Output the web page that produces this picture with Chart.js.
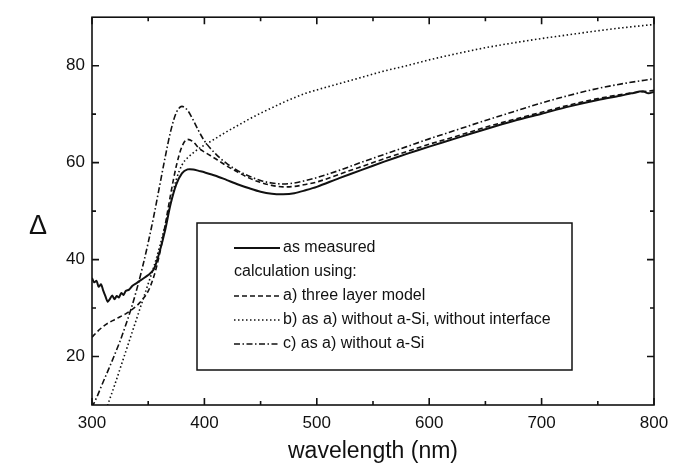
<!DOCTYPE html>
<html>
<head>
<meta charset="utf-8">
<script src="https://cdn.jsdelivr.net/npm/chart.js@4.4.0/dist/chart.umd.min.js"></script>
<style>
  html, body { margin: 0; padding: 0; background: #fff; }
</style>
</head>
<body>
<canvas id="deltaChart" width="683" height="474"></canvas>
<script>
// Measured ellipsometric angle (noisy below 350 nm)
const measuredWl = [300, 302, 304, 306, 308, 310, 312, 314, 316, 318, 320, 322, 324, 326, 328, 330, 333, 336, 340, 345,
  350, 355, 360, 365, 370, 375, 380, 385, 390, 395, 400, 410, 420, 430, 440, 450, 460, 470, 480, 490,
  500, 520, 540, 560, 580, 600, 625, 650, 675, 700, 725, 750, 770, 780, 790, 795, 800];
const measuredDelta = [36.2, 35.3, 35.6, 34.4, 34.9, 33.6, 32.4, 31.3, 31.9, 32.6, 31.8, 32.5, 32.2, 33.1, 32.7, 33.5, 33.8, 34.6, 35.2, 36.0,
  36.8, 38.0, 41.5, 46.0, 51.5, 55.5, 57.8, 58.6, 58.6, 58.3, 58.0, 57.3, 56.4, 55.5, 54.7, 54.0, 53.6, 53.5, 53.7, 54.3,
  55.0, 56.8, 58.5, 60.2, 61.8, 63.3, 65.1, 66.9, 68.6, 70.1, 71.6, 72.9, 73.8, 74.3, 74.7, 74.3, 74.6];

// Model calculations
const modelWl = [300, 305, 310, 315, 320, 325, 330, 335, 340, 345, 350, 355, 360, 365, 370, 375, 380, 385, 390, 395,
  400, 410, 420, 430, 440, 450, 460, 470, 480, 490, 500, 520, 540, 560, 580, 600, 625, 650, 675, 700, 725, 750, 775, 800];
const threeLayerDelta = [24.0, 25.2, 26.2, 27.0, 27.6, 28.2, 28.8, 29.6, 30.5, 31.8, 33.5, 36.5, 41.0, 47.0, 53.5, 59.3, 63.3, 64.8, 64.3, 63.0,
  62.2, 60.8, 59.3, 58.0, 56.8, 55.9, 55.3, 55.0, 55.1, 55.5, 56.0, 57.6, 59.2, 60.8, 62.3, 63.8, 65.5, 67.3, 68.9, 70.4, 71.9, 73.2, 74.2, 74.9];
const noSiNoInterfaceDelta = [0.5, 3.9, 7.3, 10.7, 14.0, 17.5, 21.0, 24.5, 28.0, 31.5, 35.0, 38.5, 42.5, 47.0, 52.0, 56.5, 59.5, 61.0, 62.0, 62.9,
  63.6, 65.0, 66.4, 67.7, 69.0, 70.2, 71.3, 72.4, 73.4, 74.3, 75.0, 76.3, 77.6, 78.9, 80.0, 81.2, 82.5, 83.7, 84.7, 85.6, 86.4, 87.2, 87.9, 88.5];
const noSiDelta = [9.5, 12.0, 14.8, 17.5, 20.3, 23.2, 26.5, 30.0, 34.0, 38.5, 43.5, 49.0, 55.0, 61.0, 66.5, 70.3, 71.6, 70.8, 68.8, 66.5,
  64.5, 61.8, 59.8, 58.3, 57.2, 56.3, 55.8, 55.6, 55.8, 56.3, 56.9, 58.4, 60.1, 61.7, 63.3, 64.9, 66.8, 68.7, 70.5, 72.3, 73.9, 75.3, 76.4, 77.3];

const seriesLabels = ['as measured', 'a) three layer model', 'b) as a) without a-Si, without interface', 'c) as a) without a-Si'];
const legendSubtitle = 'calculation using:';

// axis ticks
const xTicks = [300, 400, 500, 600, 700, 800];
const xMinorTicks = [350, 450, 550, 650, 750];
const yTicks = [20, 40, 60, 80];
const yMinorTicks = [30, 50, 70];

const FONT = '"Liberation Sans", Arial, Helvetica, sans-serif';
const INK = '#111';

const toPoints = (xs, ys) => xs.map((x, i) => ({ x: x, y: ys[i] }));

// frame, inward ticks, delta label and the boxed legend
const framePlugin = {
  id: 'frame',
  afterDraw(chart) {
    const ctx = chart.ctx;
    const area = chart.chartArea;
    const xs = chart.scales.x, ys = chart.scales.y;
    ctx.save();
    ctx.strokeStyle = INK;
    ctx.lineWidth = 1.6;
    ctx.strokeRect(area.left, area.top, area.right - area.left, area.bottom - area.top);

    const tick = (vals, len) => {
      vals.forEach(v => {
        const px = xs.getPixelForValue(v);
        ctx.beginPath();
        ctx.moveTo(px, area.bottom); ctx.lineTo(px, area.bottom - len);
        ctx.moveTo(px, area.top); ctx.lineTo(px, area.top + len);
        ctx.stroke();
      });
    };
    const ytick = (vals, len) => {
      vals.forEach(v => {
        const py = ys.getPixelForValue(v);
        ctx.beginPath();
        ctx.moveTo(area.left, py); ctx.lineTo(area.left + len, py);
        ctx.moveTo(area.right, py); ctx.lineTo(area.right - len, py);
        ctx.stroke();
      });
    };
    tick(xTicks, 7); tick(xMinorTicks, 4);
    ytick(yTicks, 7); ytick(yMinorTicks, 4);

    // y axis symbol
    ctx.fillStyle = INK;
    ctx.font = '27px ' + FONT;
    ctx.textAlign = 'center';
    ctx.textBaseline = 'middle';
    ctx.fillText('\u0394', 38, 227);

    // legend box
    const box = { left: 197, top: 223, right: 572, bottom: 370 };
    ctx.fillStyle = '#fff';
    ctx.fillRect(box.left, box.top, box.right - box.left, box.bottom - box.top);
    ctx.lineWidth = 1.5;
    ctx.strokeRect(box.left, box.top, box.right - box.left, box.bottom - box.top);

    ctx.font = '16px ' + FONT;
    ctx.textAlign = 'left';
    const ds = chart.data.datasets;
    const rows = [ds[0], null, ds[1], ds[2], ds[3]];
    const x0 = 234, x1 = 280, rowTop = 248, rowGap = 24;
    rows.forEach((d, i) => {
      const y = rowTop + i * rowGap;
      ctx.fillStyle = INK;
      if (!d) {
        ctx.fillText(legendSubtitle, x0, y);
        return;
      }
      ctx.beginPath();
      ctx.strokeStyle = d.borderColor;
      ctx.lineWidth = d.borderWidth;
      ctx.setLineDash(d.borderDash || []);
      ctx.moveTo(x0, y); ctx.lineTo(x1, y);
      ctx.stroke();
      ctx.setLineDash([]);
      ctx.fillText(d.label, x1 + 3, y);
    });
    ctx.restore();
  }
};

new Chart(document.getElementById('deltaChart'), {
  type: 'line',
  data: {
    datasets: [
      {
        label: seriesLabels[0],
        data: toPoints(measuredWl, measuredDelta),
        borderColor: INK, borderWidth: 2, tension: 0.3
      },
      {
        label: seriesLabels[1],
        data: toPoints(modelWl, threeLayerDelta),
        borderColor: INK, borderWidth: 1.6, borderDash: [5, 3], cubicInterpolationMode: 'monotone'
      },
      {
        label: seriesLabels[2],
        data: toPoints(modelWl, noSiNoInterfaceDelta),
        borderColor: INK, borderWidth: 1.6, borderDash: [1.5, 2.5], cubicInterpolationMode: 'monotone'
      },
      {
        label: seriesLabels[3],
        data: toPoints(modelWl, noSiDelta),
        borderColor: INK, borderWidth: 1.6, borderDash: [6, 2.5, 1.5, 2.5], cubicInterpolationMode: 'monotone'
      }
    ]
  },
  options: {
    responsive: false,
    animation: false,
    elements: { point: { radius: 0 } },
    layout: { padding: { left: 0, top: 10, right: 29, bottom: 6 } },
    plugins: {
      legend: { display: false },
      tooltip: { enabled: false }
    },
    scales: {
      x: {
        type: 'linear',
        min: 300, max: 800,
        afterBuildTicks: s => { s.ticks = xTicks.map(v => ({ value: v })); },
        afterFit: s => { s.height = 63; },
        grid: { display: false, drawTicks: false },
        border: { display: false },
        ticks: { color: INK, padding: 8, font: { family: FONT, size: 17 } },
        title: {
          display: true, text: 'wavelength (nm)', color: INK,
          padding: { top: 4, bottom: 3 },
          font: { family: FONT, size: 23 }
        }
      },
      y: {
        min: 10, max: 90,
        afterBuildTicks: s => { s.ticks = yTicks.map(v => ({ value: v })); },
        afterFit: s => { s.width = 92; },
        grid: { display: false, drawTicks: false },
        border: { display: false },
        ticks: { color: INK, padding: 7, font: { family: FONT, size: 17 } }
      }
    }
  },
  plugins: [framePlugin]
});
</script>
</body>
</html>
